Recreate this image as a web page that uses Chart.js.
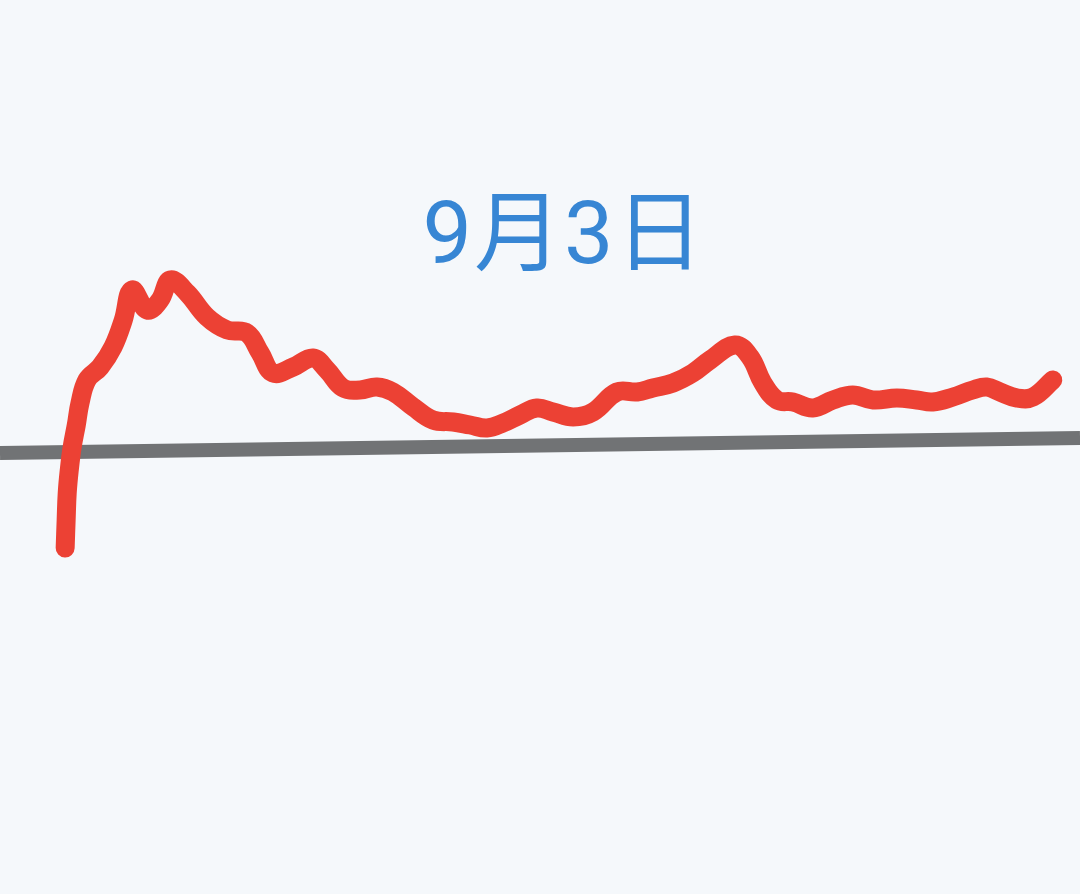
<!DOCTYPE html>
<html>
<head>
<meta charset="utf-8">
<script src="https://cdn.jsdelivr.net/npm/chart.js@4/dist/chart.umd.min.js"></script>
<style>
  html, body { margin: 0; padding: 0; background: #f5f8fb; }
  #wrap { position: relative; width: 1080px; height: 894px; }
  #title {
    position: absolute; left: 0; width: 1080px; top: 178px; text-align: center;
    font-family: Roboto, "Noto Sans CJK SC", sans-serif; font-size: 88px;
    color: #3786d4; letter-spacing: 2px; line-height: 110px; padding-left: 48px; box-sizing: border-box;
  }
</style>
</head>
<body>
<div id="wrap">
  <canvas id="chart" width="1080" height="894"></canvas>
  <div id="title">9月3日</div>
</div>
<script>
// Data: minutes since open vs. % change
const minutes = [0, 0.24, 0.5, 1.0, 1.7, 2.7, 3.6, 5.3, 8.5, 11.6, 14.1, 16.2, 19.9, 23.0, 25.5, 29.6,
  34.4, 39.3, 44.1, 47.3, 50.4, 55.3, 60.1, 63.5, 67.4, 71.5, 75.6, 79.5, 84.4, 89.2, 94.1, 98.2,
  102.3, 106.2, 110.3, 114.4, 118.3, 123.2, 128.0, 133.8, 138.7, 142.5, 147.4, 152.2, 156.4, 162.4,
  166.1, 169.2, 172.6, 176.5, 181.3, 186.2, 191.0, 195.9, 201.7, 206.5, 210.4, 215.3, 220.1, 223.5,
  226.7, 230.8, 234.7, 239.5];
const changes = [-0.98, -0.70, -0.43, -0.20, 0.03, 0.25, 0.47, 0.70, 0.83, 1.03, 1.30, 1.60, 1.40, 1.50, 1.70, 1.57,
  1.33, 1.20, 1.17, 0.97, 0.77, 0.83, 0.92, 0.80, 0.62, 0.60, 0.63, 0.58, 0.43, 0.30, 0.28, 0.25,
  0.22, 0.27, 0.35, 0.42, 0.38, 0.33, 0.38, 0.58, 0.58, 0.62, 0.67, 0.77, 0.90, 1.05,
  0.93, 0.67, 0.50, 0.48, 0.42, 0.50, 0.55, 0.50, 0.52, 0.50, 0.48, 0.53, 0.60, 0.63,
  0.58, 0.52, 0.53, 0.70];
// reference (zero) line, as drawn slightly tilted
const baseX = [-15.8, 246.1];
const baseY = [-0.03, 0.12];

const redPts = minutes.map((m, i) => ({ x: m, y: changes[i] }));
const basePts = baseX.map((x, i) => ({ x: x, y: baseY[i] }));

new Chart(document.getElementById('chart').getContext('2d'), {
  type: 'line',
  data: {
    datasets: [
      {
        data: basePts,
        borderColor: '#717375',
        borderWidth: 14,
        pointRadius: 0,
        tension: 0,
        order: 2
      },
      {
        data: redPts,
        borderColor: '#ec4134',
        borderWidth: 19,
        borderCapStyle: 'round',
        borderJoinStyle: 'round',
        pointRadius: 0,
        tension: 0.4,
        order: 1
      }
    ]
  },
  options: {
    responsive: false,
    animation: false,
    layout: { padding: 0 },
    scales: {
      x: { type: 'linear', min: -15.8, max: 246.1, display: false },
      y: { min: -4.44, max: 4.5, display: false }
    },
    plugins: { legend: { display: false }, tooltip: { enabled: false } }
  }
});
</script>
</body>
</html>
